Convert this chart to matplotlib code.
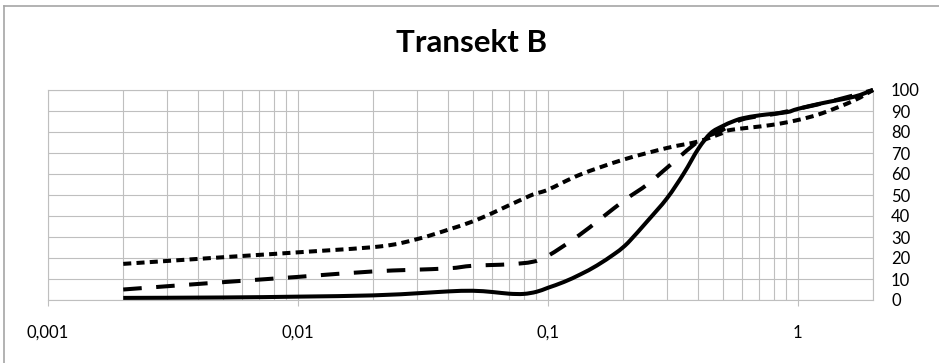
import numpy as np
import matplotlib
matplotlib.use("Agg")
import matplotlib.pyplot as plt
from matplotlib.lines import Line2D
from matplotlib.path import Path
from matplotlib.patches import PathPatch
from matplotlib.ticker import FixedLocator, LogLocator, NullFormatter

plt.rcParams['font.family'] = ['Lato', 'DejaVu Sans']

# Grain size distribution curves (cumulative %), grain size in mm
solid_x = [0.002, 0.005, 0.01, 0.02, 0.031, 0.04, 0.05, 0.06, 0.07, 0.08, 0.09,
           0.1, 0.116, 0.135, 0.157, 0.184, 0.2, 0.214, 0.25, 0.3, 0.35, 0.4,
           0.448, 0.5, 0.55, 0.6, 0.71, 0.9, 1.0, 1.25, 1.68, 2.0]
solid_y = [1.0, 1.2, 1.6, 2.2, 3.3, 4.1, 4.4, 3.8, 3.0, 2.9, 3.9,
           5.8, 8.6, 12.2, 16.4, 21.8, 25.1, 28.5, 37.5, 48.5, 60.3, 72.0,
           79.4, 82.8, 85.0, 86.5, 88.0, 89.4, 91.0, 93.7, 96.8, 100.0]

dashed_x = [0.002, 0.0045, 0.01, 0.02, 0.039, 0.05, 0.07, 0.087, 0.1, 0.134,
            0.2, 0.25, 0.3, 0.4, 0.5, 0.6, 0.8, 1.0, 1.4, 2.0]
dashed_y = [5.0, 8.1, 11.0, 13.6, 15.0, 16.3, 17.0, 18.2, 21.0, 31.0,
            47.0, 55.0, 63.0, 75.5, 81.0, 86.0, 88.5, 91.0, 95.0, 100.0]

dotted_x = [0.002, 0.0057, 0.01, 0.0213, 0.03, 0.04, 0.05, 0.06, 0.085, 0.1,
            0.134, 0.2, 0.3, 0.4, 0.5, 0.54, 0.78, 1.0, 1.25, 1.68, 2.0]
dotted_y = [17.2, 20.8, 22.7, 25.5, 29.0, 33.5, 37.4, 41.4, 49.7, 52.5,
            59.6, 66.8, 72.4, 75.5, 79.5, 81.0, 83.3, 85.7, 88.9, 95.0, 100.0]

x_ticks = [0.001, 0.01, 0.1, 1]
x_labels = ["0,001", "0,01", "0,1", "1"]
y_ticks = list(range(0, 101, 10))


def smooth_path(xs, ys):
    """Catmull-Rom style cubic Bezier through the points (in log-x space)."""
    lx = np.log10(np.asarray(xs, float))
    yy = np.asarray(ys, float)
    # normalise so the tension behaves like on screen
    sx, sy = 1.0, 1.0 / 40.0
    px, py = lx * sx, yy * sy
    n = len(px)
    verts = [(px[0], py[0])]
    codes = [Path.MOVETO]
    for i in range(n - 1):
        p0 = (px[max(i - 1, 0)], py[max(i - 1, 0)])
        p1 = (px[i], py[i])
        p2 = (px[i + 1], py[i + 1])
        p3 = (px[min(i + 2, n - 1)], py[min(i + 2, n - 1)])
        c1 = (p1[0] + (p2[0] - p0[0]) / 6, p1[1] + (p2[1] - p0[1]) / 6)
        c2 = (p2[0] - (p3[0] - p1[0]) / 6, p2[1] - (p3[1] - p1[1]) / 6)
        verts += [c1, c2, p2]
        codes += [Path.CURVE4] * 3
    verts = [(10 ** (vx / sx), vy / sy) for vx, vy in verts]
    return Path(verts, codes)


W, H = 939, 363
fig = plt.figure(figsize=(W / 100, H / 100), dpi=100)
ax = fig.add_axes([48 / W, 1 - 300 / H, (873 - 48) / W, (300 - 90) / H])

ax.set_xscale("log")
ax.set_xlim(0.001, 2)
ax.set_ylim(0, 100)

grid_c = "#BFBFBF"
lw = 2.9
styles = [(solid_x, solid_y, "solid"),
          (dashed_x, dashed_y, (0, (4.6, 3.6))),
          (dotted_x, dotted_y, (0, (2.0, 1.3)))]
for xs, ys, ls in styles:
    patch = PathPatch(smooth_path(xs, ys), facecolor="none", edgecolor="black",
                      lw=lw, linestyle=ls, joinstyle="round", capstyle="butt",
                      clip_on=False, zorder=3)
    ax.add_patch(patch)

ax.xaxis.set_major_locator(FixedLocator(x_ticks))
ax.set_xticklabels(x_labels)
ax.xaxis.set_minor_locator(LogLocator(base=10, subs=range(2, 10)))
ax.xaxis.set_minor_formatter(NullFormatter())
ax.set_yticks(y_ticks)
ax.yaxis.tick_right()

ax.grid(True, which="both", axis="x", color=grid_c, lw=0.8)
ax.grid(True, which="major", axis="y", color=grid_c, lw=0.8)
ax.set_axisbelow(True)

ax.tick_params(axis="x", which="major", direction="out", length=4.3, width=0.8,
               color=grid_c, pad=13.5, labelsize=12)
ax.tick_params(axis="x", which="minor", length=0)
ax.tick_params(axis="y", which="both", length=0, pad=13, labelsize=12)

for s in ax.spines.values():
    s.set_color(grid_c)
    s.set_linewidth(0.8)

fig.text(472 / W, 1 - 43 / H, "Transekt B", ha="center", va="center",
         fontsize=22.5, fontweight="bold")

# chart-area border (top and left edges)
border_c = "#A6A6A6"
fig.add_artist(Line2D([4 / W, 4 / W], [0, 1 - 6 / H], transform=fig.transFigure,
                      color=border_c, lw=1.2))
fig.add_artist(Line2D([4 / W, 1], [1 - 6 / H, 1 - 6 / H], transform=fig.transFigure,
                      color=border_c, lw=1.2))

fig.savefig("out.png", dpi=100)
